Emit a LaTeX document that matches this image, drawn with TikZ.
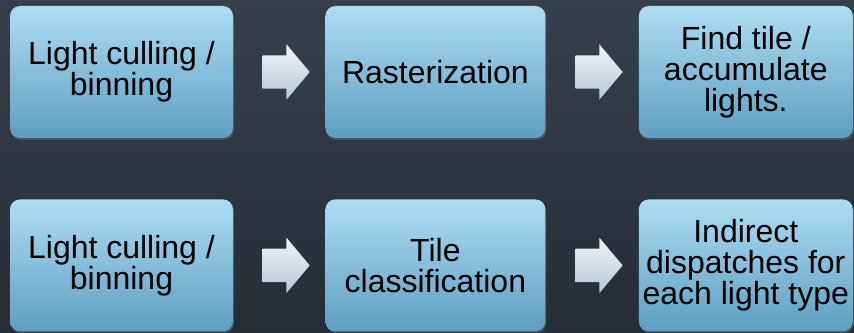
\documentclass[tikz,border=0pt]{standalone}
\usepackage{fontspec}
\setmainfont{Liberation Sans}
\usetikzlibrary{calc,positioning,shapes.arrows,shadows}

\definecolor{bgtop}{HTML}{36404D}
\definecolor{bgbot}{HTML}{262D37}
\definecolor{boxtop}{HTML}{AEDDF3}
\definecolor{boxbot}{HTML}{5E9EC2}
\definecolor{arrtop}{HTML}{EEF3F7}
\definecolor{arrbot}{HTML}{B8C8D4}

\tikzset{
  stage/.style={rectangle, rounded corners=10pt, minimum width=220pt, minimum height=132pt,
    top color=boxtop, bottom color=boxbot, align=center, inner sep=0pt,
    font=\fontsize{32}{31}\selectfont,
    drop shadow={opacity=0.35, shadow xshift=1pt, shadow yshift=-2pt}},
  flow/.style={single arrow, single arrow head extend=11pt, single arrow tip angle=100,
    minimum height=47pt, inner xsep=0pt, inner ysep=16.5pt,
    top color=arrtop, bottom color=arrbot}
}

\begin{document}
\begin{tikzpicture}[x=1pt,y=1pt]
	\fill[top color=bgtop, bottom color=bgbot] (0,0) rectangle (854,332);
	\useasboundingbox (0,0) rectangle (854,332);

	\node[stage, minimum width=223pt] (cull)   at (121.5,260)        {Light culling /\\binning};
	\node[stage]                      (raster) [right=92pt of cull]   {Rasterization};
	\node[stage, minimum width=214pt] (accum)  [right=93pt of raster] {Find tile /\\accumulate\\lights.};

	\node[stage, minimum width=223pt] (cull2)    [below=61pt of cull]     {Light culling /\\binning};
	\node[stage]                      (classify) [right=92pt of cull2]    {Tile\\classification};
	\node[stage, minimum width=214pt] (dispatch) [right=93pt of classify] {Indirect\\dispatches for\\each light type};

	\node[flow] (a1) at ($(cull.east)!0.5!(raster.west)$)       {};
	\node[flow] (a2) at ($(raster.east)!0.5!(accum.west)$)      {};
	\node[flow] (a3) at ($(cull2.east)!0.5!(classify.west)$)    {};
	\node[flow] (a4) at ($(classify.east)!0.5!(dispatch.west)$) {};
\end{tikzpicture}
\end{document}
